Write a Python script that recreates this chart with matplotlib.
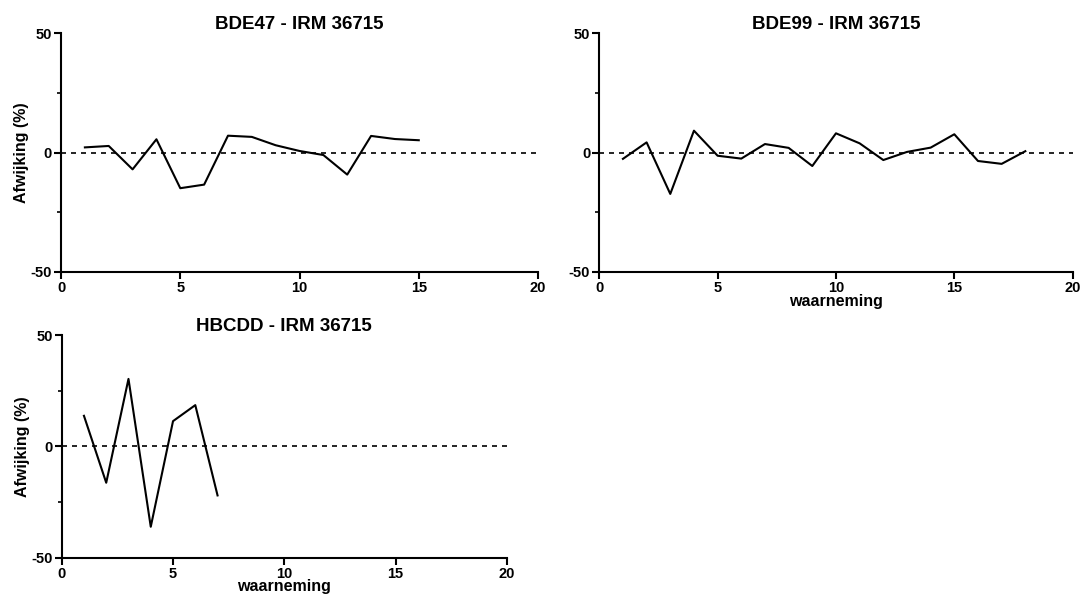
import matplotlib
matplotlib.use("Agg")
import matplotlib.pyplot as plt
from matplotlib.ticker import MultipleLocator

plt.rcParams['font.family'] = ['Liberation Sans', 'DejaVu Sans']
plt.rcParams['font.weight'] = 'bold'
plt.rcParams['axes.unicode_minus'] = False

bde47_x = list(range(1, 16))
bde47_y = [2.2, 2.8, -7.0, 5.6, -14.9, -13.4, 7.1, 6.6, 3.1, 0.7, -1.0, -9.2, 7.0, 5.7, 5.2]
bde99_x = list(range(1, 19))
bde99_y = [-2.6, 4.3, -17.3, 9.2, -1.3, -2.5, 3.6, 2.0, -5.6, 8.1, 3.9, -3.1, 0.3, 2.1, 7.7, -3.5, -4.7, 0.6]
hbcdd_x = list(range(1, 8))
hbcdd_y = [13.8, -16.3, 30.4, -36.1, 11.4, 18.6, -22.0]

titles = ["BDE47 - IRM 36715", "BDE99 - IRM 36715", "HBCDD - IRM 36715"]
xlabel = "waarneming"
ylabel = "Afwijking (%)"

fig = plt.figure(figsize=(10.88, 5.98), dpi=100)
rects = [
    [0.0561, 0.5452, 0.4384, 0.3991],
    [0.5508, 0.5452, 0.4351, 0.3991],
    [0.0567, 0.0674, 0.4093, 0.3719],
]
data = [(bde47_x, bde47_y), (bde99_x, bde99_y), (hbcdd_x, hbcdd_y)]
for i, (r, (xs, ys)) in enumerate(zip(rects, data)):
    ax = fig.add_axes(r)
    ax.plot(xs, ys, color='black', lw=1.5, clip_on=False)
    ax.plot([0, 20], [0, 0], color='black', lw=1.2, ls=(0, (3, 3)), clip_on=False)
    ax.set_xlim(0, 20)
    ax.set_ylim(-50, 50)
    ax.set_xticks([0, 5, 10, 15, 20])
    ax.set_yticks([-50, 0, 50])
    ax.yaxis.set_minor_locator(MultipleLocator(25))
    for s in ['top', 'right']:
        ax.spines[s].set_visible(False)
    for s in ['left', 'bottom']:
        ax.spines[s].set_linewidth(1.5)
    ax.tick_params(which='major', direction='out', length=5, width=1.5, labelsize=10.5, pad=1.5)
    ax.tick_params(which='minor', direction='out', length=3, width=1.2)
    for lab in ax.get_xticklabels() + ax.get_yticklabels():
        lab.set_fontweight('bold')
    ax.set_title(titles[i], fontsize=13.5, fontweight='bold', pad=3)
    if i in (0, 2):
        ax.set_ylabel(ylabel, fontsize=11.5, fontweight='bold', labelpad=1)
    if i in (1, 2):
        ax.set_xlabel(xlabel, fontsize=11.5, fontweight='bold', labelpad=-1)

fig.savefig("out.png", dpi=100)
